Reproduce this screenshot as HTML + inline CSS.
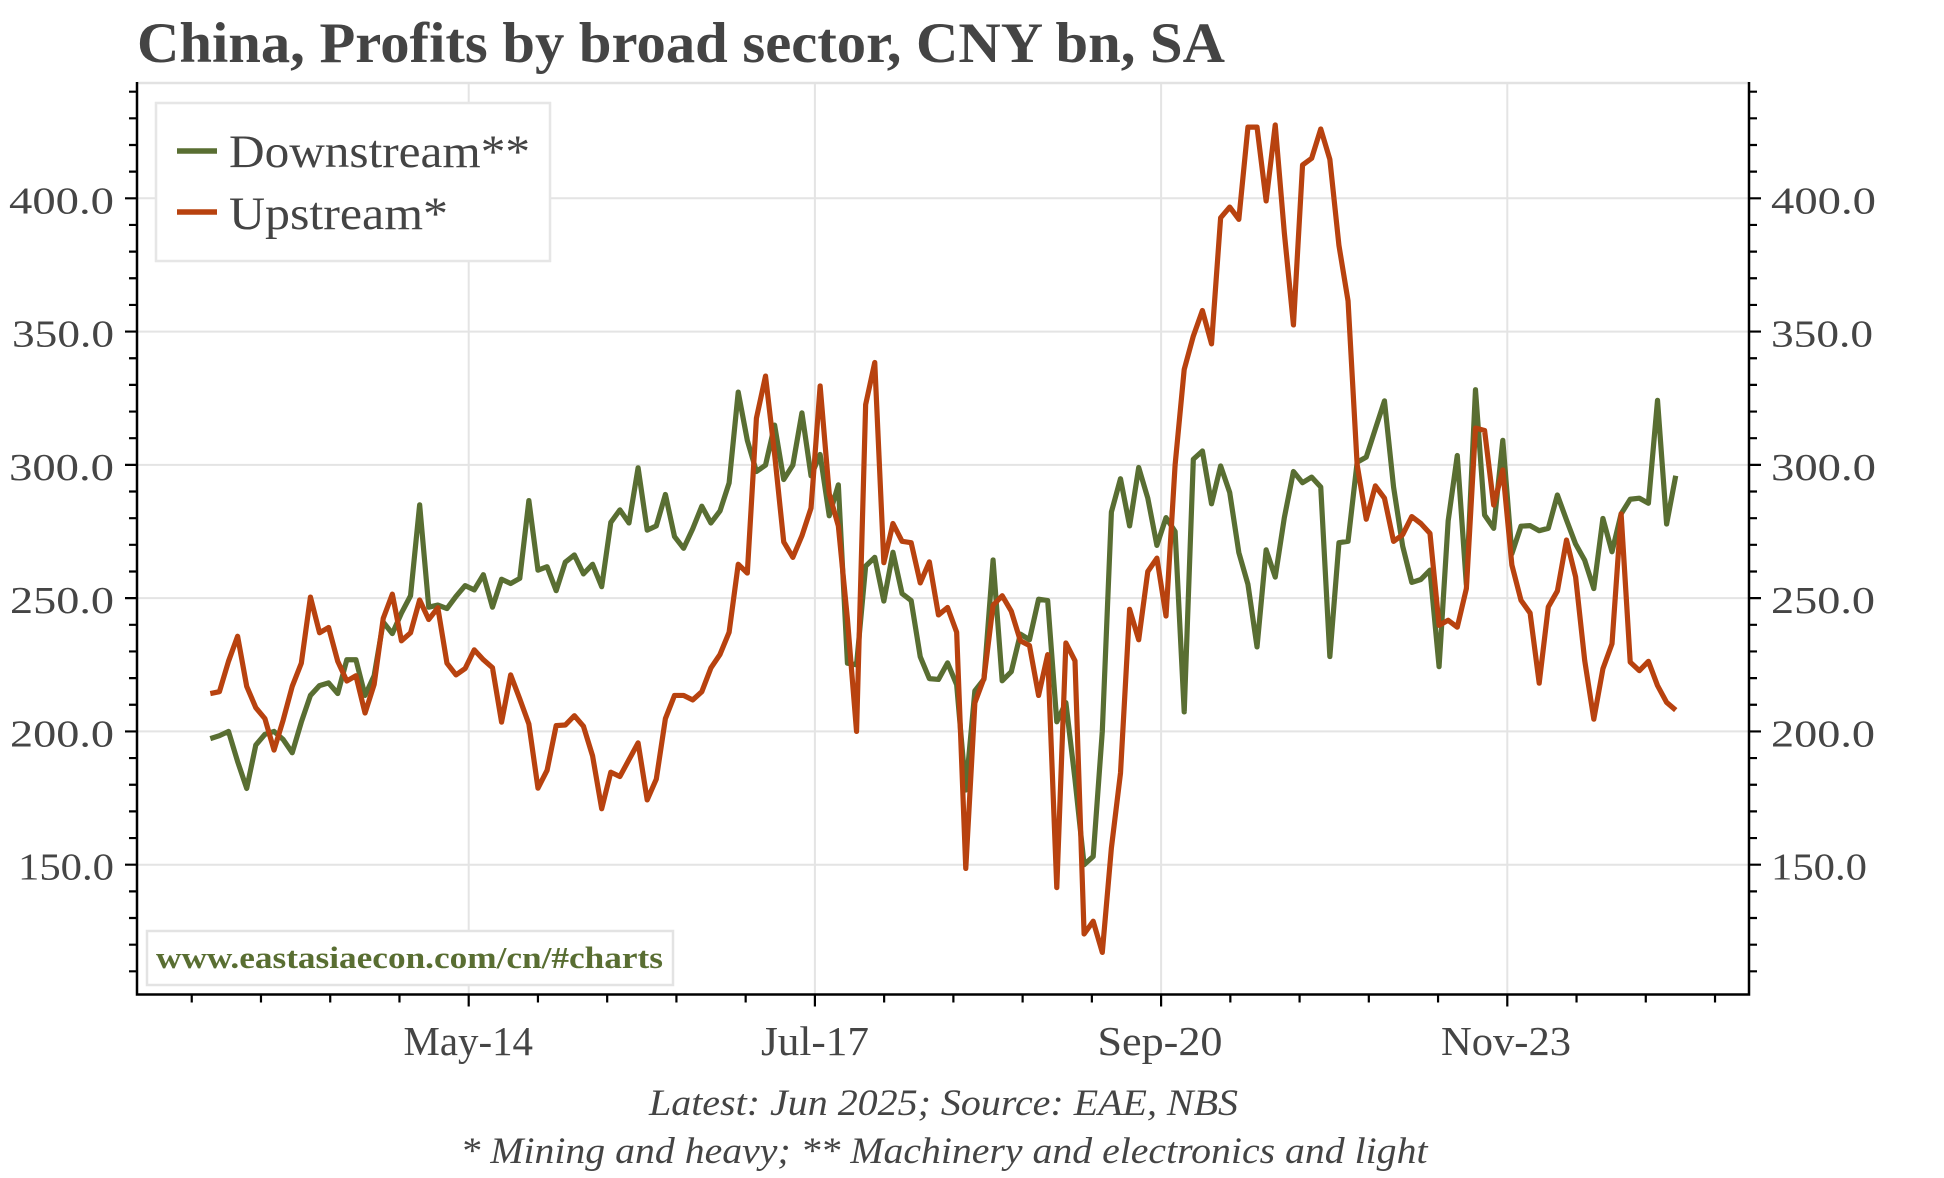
<!DOCTYPE html>
<html>
<head>
<meta charset="utf-8">
<style>
html,body{margin:0;padding:0;background:#ffffff;}
svg{display:block;}
</style>
</head>
<body>
<svg xmlns="http://www.w3.org/2000/svg" width="1944" height="1178" viewBox="0 0 1944 1178" font-family="'Liberation Serif', serif">
<rect x="0" y="0" width="1944" height="1178" fill="#ffffff"/>

<!-- Title -->
<text x="137" y="62" font-size="57" font-weight="bold" fill="#444444" textLength="1088" lengthAdjust="spacingAndGlyphs">China, Profits by broad sector, CNY bn, SA</text>

<!-- Gridlines -->
<path d="M137 864.7H1749M137 731.42H1749M137 598.14H1749M137 464.86H1749M137 331.58H1749M137 198.3H1749M468.7 83V994.5M814.9 83V994.5M1161.1 83V994.5M1507.3 83V994.5" stroke="#e4e4e4" stroke-width="2" fill="none"/>
<!-- top spine (light) -->
<path d="M137 83H1749" stroke="#e2e2e2" stroke-width="2.5" fill="none"/>

<!-- Series -->
<g transform="translate(210.3,1264.54) scale(9.102,-2.6656)" fill="none" stroke-linejoin="round" stroke-linecap="butt">
<polyline vector-effect="non-scaling-stroke" stroke="#596e32" stroke-width="5.2" points="0,197.3 1,198.4 2,200 3,188.7 4,178.6 5,194.9 6,198.9 7,200 8,197 9,192 10,203.5 11,213.5 12,217.2 13,218.2 14,214.2 15,226.9 16,226.9 17,213.5 18,220.9 19,241 20,236.7 21,244.4 22,250.9 23,285 24,246.6 25,247.4 26,246.1 27,250.7 28,254.7 29,253.1 30,258.8 31,246.6 32,257.1 33,255.5 34,257.4 35,286.6 36,260.5 37,261.8 38,252.8 39,263.5 40,266.2 41,259.1 42,262.7 43,254.3 44,278.4 45,283.1 46,278.2 47,298.9 48,275.5 49,277.1 50,288.9 51,273.1 52,268.7 53,276 54,284.5 55,278.2 56,282.7 57,293.2 58,327.3 59,309.2 60,297.5 61,299.9 62,314.9 63,294.5 64,299.9 65,319.5 66,295.9 67,303.9 68,280.9 69,292.5 70,225.6 71,225 72,262 73,265.3 74,248.9 75,267.2 76,251.7 77,249.1 78,228 79,219.8 80,219.5 81,225.7 82,217.5 83,178 84,215.2 85,219.6 86,264.3 87,219 88,222.4 89,236.5 90,234.4 91,249.6 92,249.1 93,203.6 94,210.8 95,182 96,150 97,153.1 98,200 99,282.3 100,294.8 101,277.1 102,299 103,287.5 104,269.8 105,280.2 106,275 107,207.3 108,302.1 109,305.2 110,285.4 111,299.6 112,289.6 113,267.1 114,255.2 115,231.7 116,268.1 117,257.9 118,280.2 119,297.5 120,293.3 121,295.4 122,291.7 123,228.1 124,270.8 125,271.3 126,301 127,302.9 128,313.5 129,324 130,291.7 131,269.5 132,255.9 133,257 134,260.5 135,224.3 136,279 137,303.5 138,255 139,328.2 140,281.2 141,276.2 142,309.2 143,266.7 144,277 145,277.2 146,275.3 147,276.2 148,288.7 149,279.3 150,270.3 151,264.2 152,253.6 153,279.9 154,267.4 155,281.6 156,287.1 157,287.5 158,285.6 159,324.2 160,277.8 161,295.9"/>
<polyline vector-effect="non-scaling-stroke" stroke="#b8420f" stroke-width="5.2" points="0,214.2 1,214.9 2,226.3 3,235.7 4,216.9 5,208.9 6,204.8 7,193 8,204.2 9,216.9 10,225.6 11,250.4 12,237 13,239 14,226.3 15,218.9 16,220.9 17,206.9 18,217.6 19,242.4 20,251.5 21,234 22,237 23,249.3 24,242 25,246.4 26,225.6 27,221.2 28,223.6 29,230.6 30,226.9 31,223.9 32,203.5 33,221.2 34,212.2 35,202.8 36,178.7 37,185.4 38,202.2 39,202.4 40,205.9 41,201.9 42,190.8 43,171 44,184.7 45,183.1 46,189.4 47,195.7 48,174.3 49,182.1 50,204.8 51,213.5 52,213.5 53,211.8 54,214.9 55,223.8 56,228.9 57,237.2 58,262.7 59,259.4 60,317.5 61,333.3 62,303.9 63,271.1 64,265.3 65,273.4 66,283.8 67,329.6 68,289.2 69,277.1 70,242.1 71,200 72,322.6 73,338.4 74,263.3 75,278 76,271.3 77,270.8 78,255.7 79,263.6 80,243.7 81,246.5 82,237.2 83,148.6 84,210.7 85,219.9 86,247.3 87,250.9 88,245.1 89,234 90,232.2 91,213.5 92,228.8 93,141.4 94,233.2 95,226.5 96,124 97,128.8 98,117.1 99,156.3 100,184.4 101,245.8 102,234.4 103,260 104,265 105,243.3 106,300 107,335.8 108,348.3 109,357.9 110,345.4 111,392.7 112,396.7 113,392.1 114,426.7 115,426.7 116,399 117,427.5 118,387 119,352.5 120,412.5 121,415 122,426 123,414.6 124,382.3 125,361.5 126,300 127,279.6 128,292.1 129,287.5 130,271.3 131,273.8 132,280.6 133,278 134,274.3 135,239.8 136,241.7 137,239.1 138,253.6 139,313.8 140,312.9 141,284.9 142,298.1 143,262.4 144,249.2 145,244.4 146,218.1 147,246.7 148,252.7 149,271.8 150,258 151,226.6 152,204.6 153,223.5 154,232.9 155,281.6 156,226 157,222.8 158,226.3 159,217.2 160,210.9 161,208"/>
</g>

<!-- Spines -->
<path d="M137 82V994.5H1749V82" stroke="#000000" stroke-width="2.5" fill="none"/>

<!-- Y ticks left & right -->
<path stroke="#000000" stroke-width="2.2" fill="none" d="
M129 971.32H137M129 944.67H137M129 918.01H137M129 891.36H137M129 838.04H137M129 811.39H137M129 784.73H137M129 758.08H137M129 704.76H137M129 678.11H137M129 651.45H137M129 624.8H137M129 571.48H137M129 544.83H137M129 518.17H137M129 491.52H137M129 438.2H137M129 411.55H137M129 384.89H137M129 358.24H137M129 304.92H137M129 278.27H137M129 251.61H137M129 224.96H137M129 171.64H137M129 144.99H137M129 118.33H137M129 91.68H137
M125 864.7H137M125 731.42H137M125 598.14H137M125 464.86H137M125 331.58H137M125 198.3H137
M1749 971.32H1757M1749 944.67H1757M1749 918.01H1757M1749 891.36H1757M1749 838.04H1757M1749 811.39H1757M1749 784.73H1757M1749 758.08H1757M1749 704.76H1757M1749 678.11H1757M1749 651.45H1757M1749 624.8H1757M1749 571.48H1757M1749 544.83H1757M1749 518.17H1757M1749 491.52H1757M1749 438.2H1757M1749 411.55H1757M1749 384.89H1757M1749 358.24H1757M1749 304.92H1757M1749 278.27H1757M1749 251.61H1757M1749 224.96H1757M1749 171.64H1757M1749 144.99H1757M1749 118.33H1757M1749 91.68H1757
M1749 864.7H1761M1749 731.42H1761M1749 598.14H1761M1749 464.86H1761M1749 331.58H1761M1749 198.3H1761
"/>
<!-- X ticks -->
<path stroke="#000000" stroke-width="2.2" fill="none" d="
M191.74 994.5V1002.5M260.98 994.5V1002.5M330.22 994.5V1002.5M399.46 994.5V1002.5M537.94 994.5V1002.5M607.18 994.5V1002.5M676.42 994.5V1002.5M745.66 994.5V1002.5M884.14 994.5V1002.5M953.38 994.5V1002.5M1022.62 994.5V1002.5M1091.86 994.5V1002.5M1230.34 994.5V1002.5M1299.58 994.5V1002.5M1368.82 994.5V1002.5M1438.06 994.5V1002.5M1576.54 994.5V1002.5M1645.78 994.5V1002.5M1715.02 994.5V1002.5
M468.7 994.5V1006.5M814.9 994.5V1006.5M1161.1 994.5V1006.5M1507.3 994.5V1006.5
"/>

<!-- Y labels -->
<g font-size="38" fill="#454545">
<text x="9" y="213.3" textLength="105" lengthAdjust="spacingAndGlyphs">400.0</text>
<text x="12" y="346.6" textLength="102" lengthAdjust="spacingAndGlyphs">350.0</text>
<text x="9" y="479.9" textLength="105" lengthAdjust="spacingAndGlyphs">300.0</text>
<text x="10" y="613.1" textLength="104" lengthAdjust="spacingAndGlyphs">250.0</text>
<text x="10" y="746.4" textLength="104" lengthAdjust="spacingAndGlyphs">200.0</text>
<text x="18" y="879.7" textLength="96" lengthAdjust="spacingAndGlyphs">150.0</text>
<text x="1771" y="213.3" textLength="105" lengthAdjust="spacingAndGlyphs">400.0</text>
<text x="1771" y="346.6" textLength="102" lengthAdjust="spacingAndGlyphs">350.0</text>
<text x="1771" y="479.9" textLength="105" lengthAdjust="spacingAndGlyphs">300.0</text>
<text x="1771" y="613.1" textLength="104" lengthAdjust="spacingAndGlyphs">250.0</text>
<text x="1771" y="746.4" textLength="104" lengthAdjust="spacingAndGlyphs">200.0</text>
<text x="1771" y="879.7" textLength="96" lengthAdjust="spacingAndGlyphs">150.0</text>
</g>

<!-- X labels -->
<g font-size="41" fill="#454545">
<text x="403.5" y="1055" textLength="129.5" lengthAdjust="spacingAndGlyphs">May-14</text>
<text x="761" y="1055" textLength="108" lengthAdjust="spacingAndGlyphs">Jul-17</text>
<text x="1097.5" y="1055" textLength="125" lengthAdjust="spacingAndGlyphs">Sep-20</text>
<text x="1441" y="1055" textLength="130" lengthAdjust="spacingAndGlyphs">Nov-23</text>
</g>

<!-- Legend -->
<rect x="156" y="103" width="394" height="158" fill="#ffffff" stroke="#e6e6e6" stroke-width="2.5"/>
<path d="M177 151H217" stroke="#596e32" stroke-width="5.5"/>
<path d="M177 212H217" stroke="#b8420f" stroke-width="5.5"/>
<text x="229" y="167" font-size="47" fill="#444444" textLength="301" lengthAdjust="spacingAndGlyphs">Downstream**</text>
<text x="229" y="229" font-size="47" fill="#444444" textLength="219" lengthAdjust="spacingAndGlyphs">Upstream*</text>

<!-- Watermark -->
<rect x="147" y="931" width="526" height="54" fill="#ffffff" stroke="#e3e3e3" stroke-width="2.5"/>
<text x="156" y="968" font-size="31" font-weight="bold" fill="#596e32" textLength="507" lengthAdjust="spacingAndGlyphs">www.eastasiaecon.com/cn/#charts</text>

<!-- Footnotes -->
<text x="649" y="1115" font-size="37" font-style="italic" fill="#444444" textLength="589" lengthAdjust="spacingAndGlyphs">Latest: Jun 2025; Source: EAE, NBS</text>
<text x="460.5" y="1163" font-size="37" font-style="italic" fill="#444444" textLength="967" lengthAdjust="spacingAndGlyphs">* Mining and heavy; ** Machinery and electronics and light</text>
</svg>
</body>
</html>
